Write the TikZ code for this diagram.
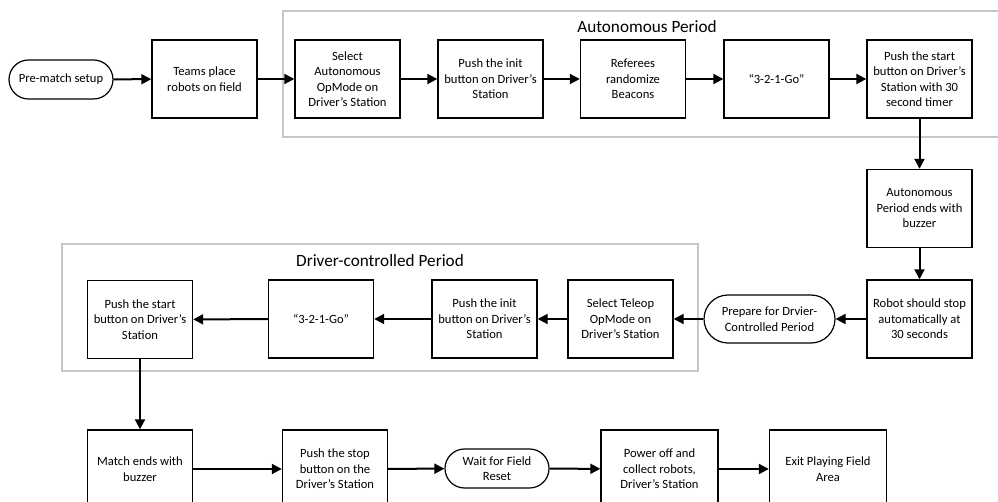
\documentclass[tikz,border=0pt]{standalone}
\usepackage{fontspec}
\setmainfont{Carlito}
\usetikzlibrary{arrows.meta}
\begin{document}
\begin{tikzpicture}[x=1pt,y=-1pt,
  txt/.style={font=\fontsize{12.6}{15.5}\selectfont},
  box/.style={txt,draw=black,line width=1.4pt,minimum width=105pt,minimum height=78pt,align=center,inner sep=0pt},
  wbox/.style={box,minimum width=117pt},
  term/.style={txt,draw=black,line width=1.2pt,rounded corners=19.5pt,minimum height=39pt,align=center,inner sep=0pt},
  group/.style={draw=black!22,line width=1.8pt},
  gtitle/.style={font=\fontsize{17.2}{20}\selectfont,inner sep=0pt},
  arr/.style={line width=2pt,-{Triangle[length=10pt,width=10pt]}}]
\useasboundingbox (0,0) rectangle (998,502);
\clip (0,0) rectangle (998,502);
% groups
\draw[group] (1005,11) -- (283,11) -- (283,137) -- (1005,137);
\node[gtitle] (tauto) at (647,27) {Autonomous Period};
\draw[group] (62,244) rectangle (698,371);
\node[gtitle] (tdrive) at (380,261) {Driver-controlled Period};
% top row
\node[term,minimum width=104pt] (pre) at (61,79.5) {Pre-match setup};
\node[box] (teams) at (204.5,79) {Teams place\\robots on field};
\node[box] (selauto) at (347.5,79) {Select\\Autonomous\\OpMode on\\Driver’s Station};
\node[box] (init1) at (490.5,79) {Push the init\\button on Driver’s\\Station};
\node[box] (ref) at (633,79) {Referees\\randomize\\Beacons};
\node[box] (go1) at (776.5,79) {“3-2-1-Go”};
\node[box] (start1) at (919.5,79) {Push the start\\button on Driver’s\\Station with 30\\second timer};
% right column
\node[box] (autoend) at (919.5,208.5) {Autonomous\\Period ends with\\buzzer};
\node[box] (robstop) at (919.5,319) {Robot should stop\\automatically at\\30 seconds};
% middle row
\node[term,minimum width=131pt,minimum height=48pt,rounded corners=24pt] (prep) at (769.5,319) {Prepare for Drvier-\\Controlled Period};
\node[box] (selteleop) at (620.5,319) {Select Teleop\\OpMode on\\Driver’s Station};
\node[box] (init2) at (484.5,319) {Push the init\\button on Driver’s\\Station};
\node[box] (go2) at (321,319) {“3-2-1-Go”};
\node[box] (start2) at (140,319.5) {Push the start\\button on Driver’s\\Station};
% bottom row
\node[box] (matchend) at (140,469) {Match ends with\\buzzer};
\node[box] (stop) at (335,469) {Push the stop\\button on the\\Driver’s Station};
\node[term,minimum width=104pt] (wait) at (497,468.5) {Wait for Field\\Reset};
\node[wbox] (power) at (659.5,469) {Power off and\\collect robots,\\Driver’s Station};
\node[wbox] (exit) at (828,469) {Exit Playing Field\\Area};
% arrows
\draw[arr] (pre) -- (teams);
\draw[arr] (teams) -- (selauto);
\draw[arr] (selauto) -- (init1);
\draw[arr] (init1) -- (ref);
\draw[arr] (ref) -- (go1);
\draw[arr] (go1) -- (start1);
\draw[arr] (start1) -- (autoend);
\draw[arr] (autoend) -- (robstop);
\draw[arr] (robstop) -- (prep);
\draw[arr] (prep) -- (selteleop);
\draw[arr] (selteleop) -- (init2);
\draw[arr] (init2) -- (go2);
\draw[arr] (go2) -- (start2);
\draw[arr] (start2) -- (matchend);
\draw[arr] (matchend) -- (stop);
\draw[arr] (stop) -- (wait);
\draw[arr] (wait) -- (power);
\draw[arr] (power) -- (exit);
\end{tikzpicture}
\end{document}
